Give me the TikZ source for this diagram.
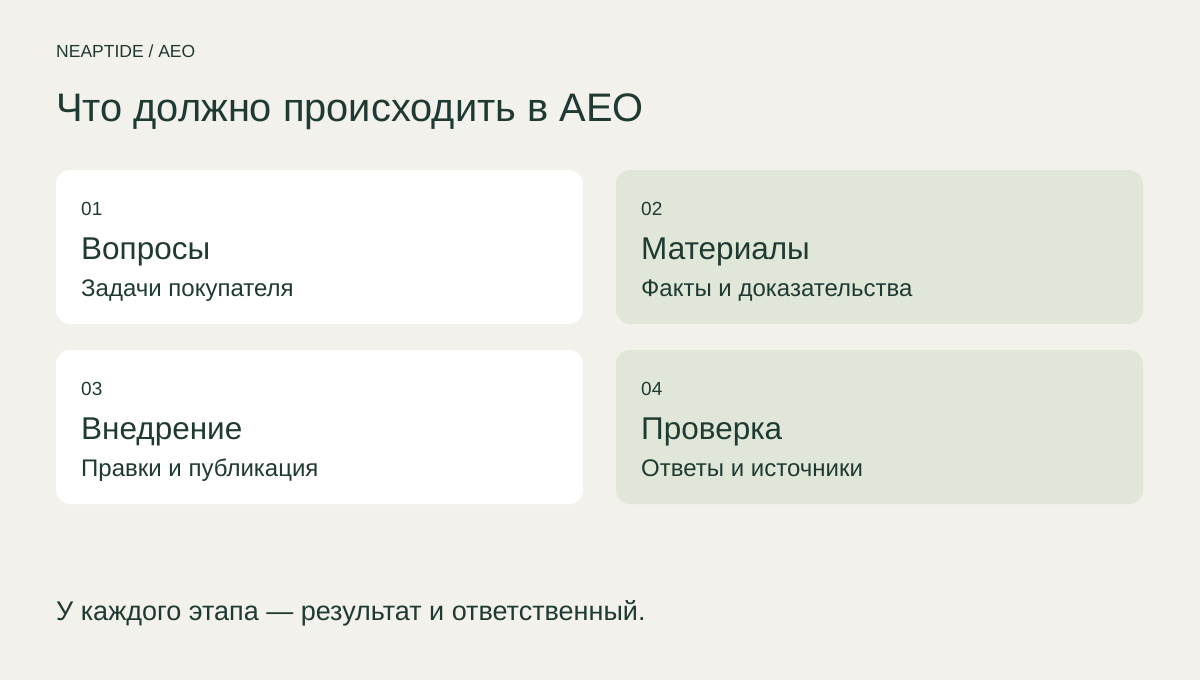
\documentclass[tikz,border=0pt]{standalone}
\usepackage{fontspec}
\setmainfont{Liberation Sans}
\definecolor{bg}{HTML}{F2F1EC}
\definecolor{ink}{HTML}{1F3A32}
\definecolor{sage}{HTML}{E0E7D9}
\begin{document}
\begin{tikzpicture}[x=1pt,y=-1pt,
  card/.style={rounded corners=14pt},
  txt/.style={anchor=base west,inner sep=0pt,text=ink},
  numtxt/.style={txt,font=\fontsize{19}{21}\selectfont},
  headtxt/.style={txt,font=\fontsize{31.5}{34}\selectfont},
  subtxt/.style={txt,font=\fontsize{24}{26}\selectfont}]
\fill[bg] (0,0) rectangle (1200,680);
\useasboundingbox (0,0) rectangle (1200,680);
\node[txt,font=\fontsize{17.5}{19}\selectfont] (brand) at (56,57) {NEAPTIDE / AEO};
\node[txt,font=\fontsize{39.8}{42}\selectfont] (title) at (56,121) {Что должно происходить в AEO};
% cards
\fill[white,card] (56,170) rectangle (583,324);
\fill[sage,card] (616,170) rectangle (1143,324);
\fill[white,card] (56,350) rectangle (583,504);
\fill[sage,card] (616,350) rectangle (1143,504);
\node[numtxt] (n1) at (81,215) {01};
\node[headtxt] (h1) at (81,259) {Вопросы};
\node[subtxt] (s1) at (81,296) {Задачи покупателя};
\node[numtxt] (n2) at (641,215) {02};
\node[headtxt] (h2) at (641,259) {Материалы};
\node[subtxt] (s2) at (641,296) {Факты и доказательства};
\node[numtxt] (n3) at (81,395) {03};
\node[headtxt] (h3) at (81,439) {Внедрение};
\node[subtxt] (s3) at (81,476) {Правки и публикация};
\node[numtxt] (n4) at (641,395) {04};
\node[headtxt] (h4) at (641,439) {Проверка};
\node[subtxt] (s4) at (641,476) {Ответы и источники};
\node[txt,font=\fontsize{27}{30}\selectfont] (foot) at (56,620) {У каждого этапа — результат и ответственный.};
\end{tikzpicture}
\end{document}
